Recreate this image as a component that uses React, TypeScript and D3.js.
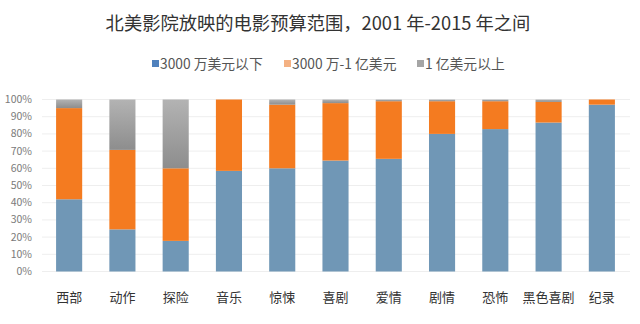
import React from "react";
import * as d3 from "d3";

const categories = ["西部", "动作", "探险", "音乐", "惊悚", "喜剧", "爱情", "剧情", "恐怖", "黑色喜剧", "纪录"];
const under30m = [0.42, 0.245, 0.178, 0.585, 0.60, 0.645, 0.655, 0.80, 0.828, 0.866, 0.97];
const mid30mTo100m = [0.53, 0.462, 0.422, 0.415, 0.37, 0.334, 0.335, 0.19, 0.162, 0.12, 0.03];
const over100m = [0.05, 0.293, 0.40, 0.0, 0.03, 0.021, 0.01, 0.01, 0.01, 0.014, 0.0];
const seriesNames = ["3000 万美元以下", "3000 万-1 亿美元", "1 亿美元以上"];
const yTicks = [0, 0.1, 0.2, 0.3, 0.4, 0.5, 0.6, 0.7, 0.8, 0.9, 1.0];
const title = "北美影院放映的电影预算范围，2001 年-2015 年之间";

const colors = ["#7097b6", "#f47b20", "url(#grayGrad)"];
const legendColors = ["#4f81bd", "#f4b183", "#a5a5a5"];
const FONT = "'Noto Sans CJK SC', 'Noto Sans', sans-serif";

export default function App() {
  const W = 640, H = 324;
  const x = d3.scaleBand<string>().domain(categories).range([42.5, 628.5]).paddingInner(0.51).paddingOuter(0.255);
  const y = d3.scaleLinear().domain([0, 1]).range([271.5, 99.5]);
  const rows = categories.map((c, i) => ({ cat: c, a: under30m[i], b: mid30mTo100m[i], c: over100m[i] }));
  const stack = d3.stack<any>().keys(["a", "b", "c"])(rows);
  const legendX = [152, 284, 417];
  return (
    <svg width={W} height={H} style={{ position: "absolute", left: 0, top: 0, background: "#fff" }} fontFamily={FONT}>
      <defs>
        <linearGradient id="grayGrad" x1="0" y1="0" x2="0" y2="1">
          <stop offset="0%" stopColor="#b3b3b3" />
          <stop offset="100%" stopColor="#8d8d8d" />
        </linearGradient>
      </defs>
      <rect width={W} height={H} fill="#fff" />
      <text x={318} y={30} textAnchor="middle" fontSize={18.3} fill="#333">{title}</text>
      {seriesNames.map((n, i) => (
        <g key={n}>
          <rect x={legendX[i]} y={60} width={7} height={7} fill={legendColors[i]} />
          <text x={legendX[i] + 8} y={69} fontSize={13.8} fill="#555">{n}</text>
        </g>
      ))}
      {yTicks.map((t) => (
        <g key={t}>
          <line x1={42} x2={630} y1={y(t)} y2={y(t)} stroke="#eeeeee" strokeWidth={1} />
          <text x={32} y={y(t) + 3.5} textAnchor="end" fontSize={10.5} fill="#7a7a7a">{d3.format(".0%")(t)}</text>
        </g>
      ))}
      {stack.map((s, si) => (
        <g key={si} fill={colors[si]}>
          {s.map((d: any, i: number) => (
            <rect key={i} x={x(categories[i])} width={x.bandwidth()} y={y(d[1])} height={Math.max(0, y(d[0]) - y(d[1]))} />
          ))}
        </g>
      ))}
      {categories.map((c) => (
        <text key={c} x={(x(c) || 0) + x.bandwidth() / 2} y={302} textAnchor="middle" fontSize={13} fill="#333">{c}</text>
      ))}
    </svg>
  );
}
